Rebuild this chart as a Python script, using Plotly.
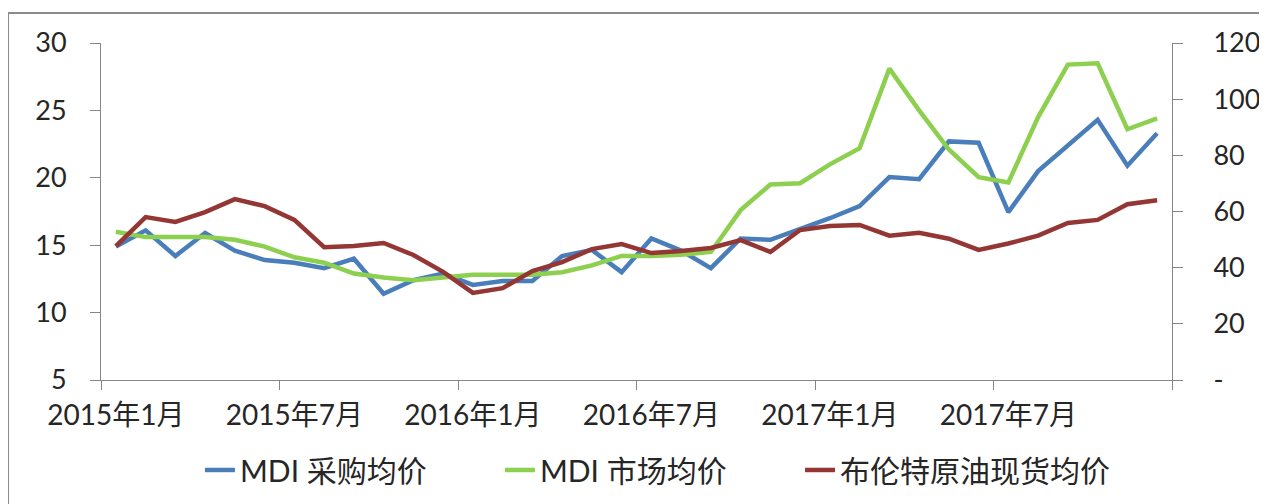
import plotly.graph_objects as go

months = [f"{y}年{m}月" for y in (2015, 2016, 2017) for m in range(1, 13)]

mdi_purchase = [14.9, 16.1, 14.2, 15.9, 14.6, 13.9, 13.7, 13.3, 14.0, 11.4, 12.4, 12.9,
                12.05, 12.35, 12.35, 14.2, 14.65, 13.0, 15.5, 14.6, 13.3, 15.5, 15.4, 16.2,
                17.0, 17.9, 20.05, 19.9, 22.7, 22.6, 17.45, 20.5, 22.4, 24.3, 20.9, 23.3]

mdi_market = [16.0, 15.6, 15.6, 15.6, 15.4, 14.9, 14.1, 13.7, 12.9, 12.6, 12.4, 12.6,
              12.8, 12.8, 12.8, 13.0, 13.5, 14.2, 14.2, 14.3, 14.5, 17.6, 19.5, 19.6,
              21.0, 22.2, 28.1, 25.0, 22.1, 20.05, 19.65, 24.5, 28.4, 28.5, 23.6, 24.4]

brent = [47.7, 58.0, 56.3, 59.8, 64.4, 61.9, 57.0, 47.3, 47.7, 48.8, 44.5, 38.5,
         31.0, 32.7, 38.8, 42.0, 46.6, 48.4, 45.2, 45.9, 47.0, 49.8, 45.6, 53.4,
         54.8, 55.2, 51.4, 52.4, 50.3, 46.3, 48.6, 51.4, 55.9, 57.0, 62.6, 64.0]

names = ["MDI 采购均价", "MDI 市场均价", "布伦特原油现货均价"]
colors = ["#4A7EBB", "#8DCF4F", "#943634"]

left_ticks = [5, 10, 15, 20, 25, 30]
right_ticks = [0, 20, 40, 60, 80, 100, 120]
right_labels = ["-", "20", "40", "60", "80", "100", "120"]

FONT = "Lato, Noto Sans CJK SC, sans-serif"
TXT = "#262626"
AX = "#868686"

fig = go.Figure()
fig.add_trace(go.Scatter(x=months, y=mdi_purchase, name=names[0], mode="lines",
                         legend="legend", line=dict(color=colors[0], width=4.5)))
fig.add_trace(go.Scatter(x=months, y=mdi_market, name=names[1], mode="lines",
                         legend="legend2", line=dict(color=colors[1], width=4.5)))
fig.add_trace(go.Scatter(x=months, y=brent, name=names[2], mode="lines", yaxis="y2",
                         legend="legend3", line=dict(color=colors[2], width=4.5)))


def leg(x):
    return dict(orientation="h", x=x, xanchor="left", y=-0.267, yanchor="middle",
                font=dict(size=30, family=FONT, color=TXT), bgcolor="rgba(0,0,0,0)")


fig.update_layout(
    width=1259, height=496,
    margin=dict(l=93, r=95, t=35, b=124, autoexpand=False),
    paper_bgcolor="white", plot_bgcolor="white",
    font=dict(family=FONT, color=TXT, size=27),
    showlegend=True,
    legend=leg(0.0924), legend2=leg(0.3725), legend3=leg(0.6527),
    xaxis=dict(type="category", tickmode="linear", tick0=0, dtick=6,
               tickson="boundaries", ticks="outside", ticklen=9, tickcolor=AX,
               showline=True, linecolor=AX, linewidth=1, showgrid=False, zeroline=False,
               range=[-0.5, 35.5], tickfont=dict(size=28), tickangle=0,
               ticklabelstandoff=10, automargin=False),
    yaxis=dict(range=[5, 30], tickvals=left_ticks, ticks="outside", ticklen=10,
               tickcolor=AX, showline=True, linecolor=AX, linewidth=1,
               showgrid=False, zeroline=False, tickfont=dict(size=27),
               ticklabelstandoff=18, automargin=False),
    yaxis2=dict(range=[0, 120], tickvals=right_ticks, ticktext=right_labels,
                overlaying="y", side="right", ticks="outside", ticklen=10,
                tickcolor=AX, showline=True, linecolor=AX, linewidth=1,
                showgrid=False, zeroline=False, tickfont=dict(size=27),
                ticklabelstandoff=25, automargin=False),
    shapes=[dict(type="rect", xref="paper", yref="paper",
                 x0=-0.0868, x1=1.084, y0=-0.40, y1=1.089,
                 line=dict(color="#8C8C8C", width=2), fillcolor="rgba(0,0,0,0)",
                 layer="below")],
)

fig.write_html("out.html")
